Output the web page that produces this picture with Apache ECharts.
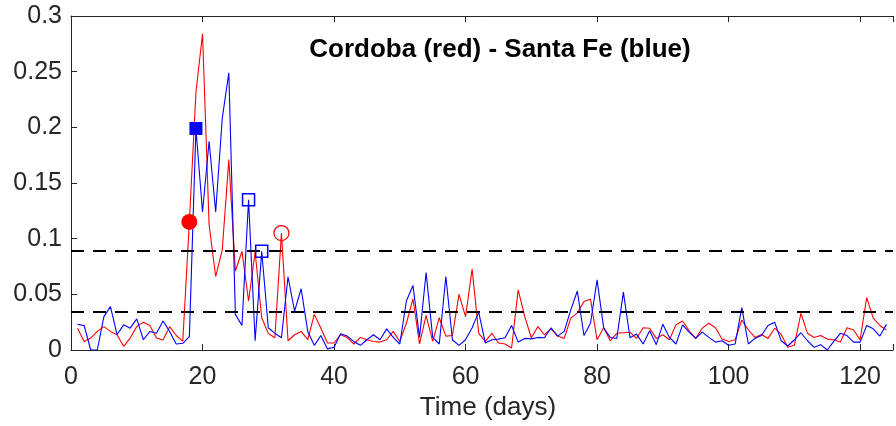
<!DOCTYPE html>
<html>
<head>
<meta charset="utf-8">
<script src="https://cdn.jsdelivr.net/npm/echarts@6/dist/echarts.min.js"></script>
<style>
  html, body { margin: 0; padding: 0; background: #fff; }
  #chart { width: 896px; height: 426px; }
</style>
</head>
<body>
<div id="chart"></div>
<script>
// Daily values, day 1 .. day 124
const cordoba = [
  0.0196, 0.0077, 0.0107, 0.0167, 0.021, 0.0167, 0.0137, 0.0033, 0.0107, 0.021,
  0.025, 0.022, 0.0107, 0.009, 0.021, 0.013, 0.008, 0.115, 0.2315, 0.284,
  0.1125, 0.066, 0.090, 0.171, 0.071, 0.0887, 0.044, 0.088, 0.029, 0.0149,
  0.011, 0.105, 0.0083, 0.0137, 0.0167, 0.0092, 0.032, 0.0196, 0.0063, 0.0063,
  0.0137, 0.0113, 0.0054, 0.0113, 0.0092, 0.0077, 0.0071, 0.0092, 0.0167, 0.0077,
  0.024, 0.046, 0.0054, 0.031, 0.0077, 0.029, 0.0125, 0.013, 0.050, 0.030,
  0.0726, 0.015, 0.0077, 0.015, 0.0063, 0.0054, 0.0018, 0.054, 0.030, 0.011,
  0.021, 0.0137, 0.019, 0.0125, 0.0104, 0.0286, 0.0333, 0.0435, 0.0455, 0.0092,
  0.020, 0.0083, 0.015, 0.0155, 0.016, 0.0104, 0.020, 0.0196, 0.0104, 0.0137,
  0.0092, 0.0226, 0.026, 0.0173, 0.0104, 0.0196, 0.024, 0.020, 0.0098, 0.0077,
  0.0092, 0.027, 0.0182, 0.0113, 0.014, 0.0104, 0.0196, 0.014, 0.0024, 0.0042,
  0.033, 0.015, 0.0113, 0.013, 0.0098, 0.0092, 0.0071, 0.020, 0.018, 0.0092,
  0.047, 0.0286, 0.022, 0.018
];
const santaFe = [
  0.023, 0.022, 0.0, 0.0, 0.030, 0.039, 0.0137, 0.0226, 0.0196, 0.028,
  0.0092, 0.0167, 0.015, 0.026, 0.0167, 0.0054, 0.006, 0.012, 0.199, 0.124,
  0.1875, 0.124, 0.208, 0.249, 0.032, 0.022, 0.135, 0.0083, 0.0887, 0.020,
  0.015, 0.011, 0.0658, 0.035, 0.055, 0.0167, 0.0042, 0.013, 0.001, 0.0024,
  0.0146, 0.0125, 0.0077, 0.0042, 0.0092, 0.0137, 0.0092, 0.019, 0.0113, 0.0054,
  0.044, 0.058, 0.0113, 0.0696, 0.0113, 0.0054, 0.066, 0.0092, 0.0042, 0.0092,
  0.020, 0.034, 0.0063, 0.0092, 0.0098, 0.011, 0.022, 0.0071, 0.0104, 0.010,
  0.0113, 0.011, 0.020, 0.0125, 0.0167, 0.036, 0.053, 0.013, 0.024, 0.063,
  0.020, 0.0113, 0.0104, 0.052, 0.011, 0.0143, 0.0054, 0.0173, 0.0048, 0.0232,
  0.0113, 0.0054, 0.0226, 0.016, 0.0104, 0.016, 0.0113, 0.0071, 0.0083, 0.0042,
  0.0054, 0.038, 0.0054, 0.0104, 0.013, 0.022, 0.025, 0.0083, 0.0036, 0.0092,
  0.0155, 0.0083, 0.0024, 0.0048, 0.0, 0.0077, 0.015, 0.013, 0.0071, 0.0071,
  0.022, 0.019, 0.0125, 0.023
];

// Highlighted days
const cordobaFilledDays = [18];
const cordobaOpenDays = [32];
const santaFeFilledDays = [19];
const santaFeOpenDays = [27, 29];

// Horizontal threshold levels
const thresholds = [0.089, 0.0345];

const xTicks = [0, 20, 40, 60, 80, 100, 120];
const yTicks = [0, 0.05, 0.1, 0.15, 0.2, 0.25, 0.3];
const yTickText = ['0', '0.05', '0.1', '0.15', '0.2', '0.25', '0.3'];

const titleText = 'Cordoba (red) - Santa Fe (blue)';
const xName = 'Time (days)';

const toPairs = arr => arr.map((v, i) => [i + 1, v]);
const pick = (arr, days) => days.map(d => [d, arr[d - 1]]);

const FONT = '"Liberation Sans", Arial, Helvetica, sans-serif';
const AX = '#262626';

const chart = echarts.init(document.getElementById('chart'), null, { renderer: 'canvas' });

chart.setOption({
  animation: false,
  backgroundColor: '#ffffff',
  grid: { left: 71, top: 16, width: 832.5, height: 336, containLabel: false },
  graphic: [{
    type: 'text',
    x: 500, y: 50,
    style: {
      text: titleText,
      fill: '#000',
      font: 'bold 26px ' + FONT,
      textAlign: 'center',
      textVerticalAlign: 'middle'
    }
  }],
  xAxis: [{
    type: 'value', min: 0, max: 125, interval: 20,
    position: 'bottom',
    name: xName, nameLocation: 'middle', nameGap: 45,
    nameTextStyle: { color: AX, fontSize: 26, fontFamily: FONT, padding: [0, 0, 0, 12] },
    axisLine: { show: true, onZero: false, lineStyle: { color: AX, width: 1 } },
    axisTick: { show: true, inside: true, length: 6, lineStyle: { color: AX } },
    axisLabel: {
      color: AX, fontSize: 25, fontFamily: FONT, margin: 15,
      formatter: v => (xTicks.includes(v) ? String(v) : '')
    },
    splitLine: { show: false }
  }, {
    type: 'value', min: 0, max: 125, interval: 20,
    position: 'top',
    axisLine: { show: true, onZero: false, lineStyle: { color: AX, width: 1 } },
    axisTick: { show: true, inside: true, length: 6, lineStyle: { color: AX } },
    axisLabel: { show: false },
    splitLine: { show: false }
  }],
  yAxis: {
    type: 'value', min: 0, max: 0.3, interval: 0.05,
    axisLine: { show: true, onZero: false, lineStyle: { color: AX, width: 1 } },
    axisTick: { show: true, inside: true, length: 6, lineStyle: { color: AX } },
    axisLabel: {
      color: AX, fontSize: 25, fontFamily: FONT, margin: 9,
      formatter: v => {
        const i = yTicks.findIndex(t => Math.abs(t - v) < 1e-9);
        return i >= 0 ? yTickText[i] : '';
      }
    },
    splitLine: { show: false }
  },
  series: [
    {
      name: 'Cordoba', type: 'line', data: toPairs(cordoba),
      symbol: 'none', lineStyle: { color: '#ff0000', width: 1.1 }, z: 3,
      markLine: {
        silent: true, symbol: 'none', precision: 6, label: { show: false },
        lineStyle: { color: '#000', type: [13, 9], width: 1.8, opacity: 1 },
        data: thresholds.map(t => ({ yAxis: t }))
      }
    },
    {
      name: 'Santa Fe', type: 'line', data: toPairs(santaFe),
      symbol: 'none', lineStyle: { color: '#0000ff', width: 1.1 }, z: 4
    },
    {
      type: 'scatter', data: pick(cordoba, cordobaFilledDays),
      symbol: 'circle', symbolSize: 16,
      itemStyle: { color: '#ff0000', opacity: 1 }, z: 5
    },
    {
      type: 'scatter', data: pick(cordoba, cordobaOpenDays),
      symbol: 'circle', symbolSize: 15,
      itemStyle: { color: 'rgba(255,255,255,0)', borderColor: '#ff0000', borderWidth: 1.2, opacity: 1 }, z: 5
    },
    {
      type: 'scatter', data: pick(santaFe, santaFeFilledDays),
      symbol: 'rect', symbolSize: 13,
      itemStyle: { color: '#0000ff', opacity: 1 }, z: 6
    },
    {
      type: 'scatter', data: pick(santaFe, santaFeOpenDays),
      symbol: 'rect', symbolSize: 12,
      itemStyle: { color: 'rgba(255,255,255,0)', borderColor: '#0000ff', borderWidth: 1.5, opacity: 1 }, z: 6
    }
  ]
});
</script>
</body>
</html>
